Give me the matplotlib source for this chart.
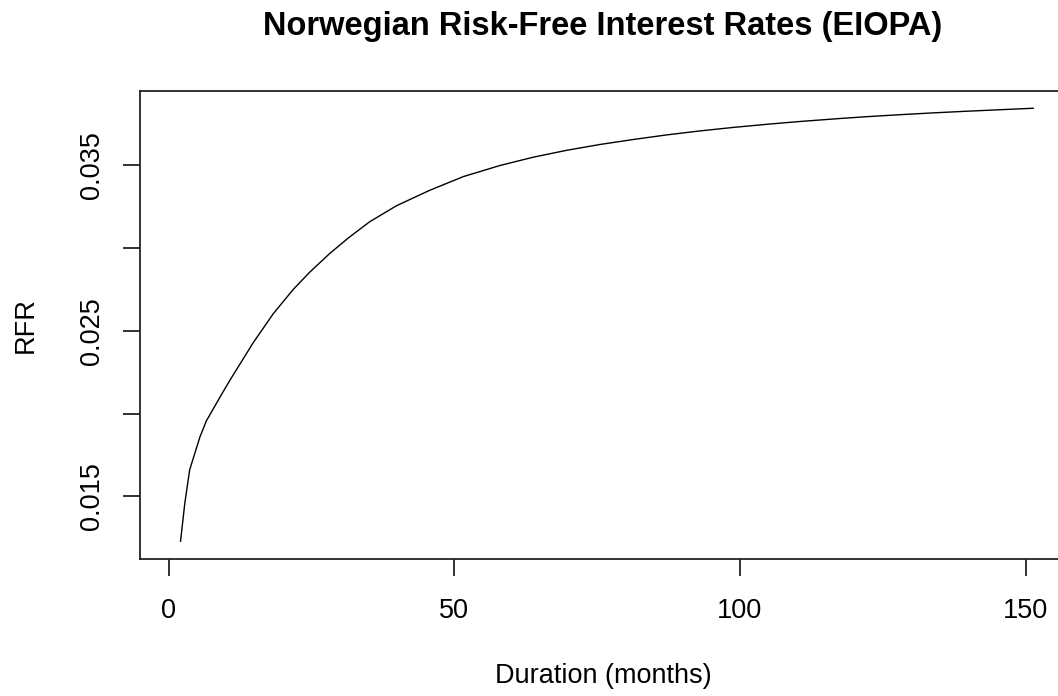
import matplotlib
matplotlib.use("Agg")
import matplotlib.pyplot as plt

plt.rcParams['font.family'] = ['Liberation Sans', 'DejaVu Sans']

# EIOPA risk-free rate curve for NOK, by duration
duration = [2.1, 2.85, 3.7, 5.5, 6.6, 9.0, 10.7, 12.5, 14.8, 18.3, 21.8, 24.7,
            28.2, 31.5, 35.2, 39.9, 45.7, 51.6, 58.0, 63.8, 69.7, 75.5, 81.3,
            87.2, 93.0, 98.8, 104.7, 110.5, 117.5, 122.2, 128.0, 133.8, 139.7,
            145.5, 151.3]
rfr = [0.01229, 0.0146, 0.01661, 0.0186, 0.01955, 0.02100, 0.02200, 0.0230,
       0.02428, 0.02603, 0.0275, 0.02855, 0.02968, 0.03063, 0.0316, 0.03257,
       0.0335, 0.03433, 0.035, 0.0355, 0.03592, 0.03627, 0.03657, 0.03685,
       0.03709, 0.0373, 0.03749, 0.03766, 0.03784, 0.03795, 0.03807, 0.03818,
       0.03828, 0.03837, 0.03846]

xticks = [0, 50, 100, 150]
yticks = [0.015, 0.020, 0.025, 0.030, 0.035]
ytick_labels = ['0.015', '', '0.025', '', '0.035']

fig = plt.figure(figsize=(10.58, 6.96), dpi=100)
ax = fig.add_axes([0.1323, 0.1974, 0.875, 0.6718])

ax.plot(duration, rfr, color='black', lw=1.0)

ax.set_xlim(-5, 157)
ax.set_ylim(0.01124, 0.0395)
ax.set_xticks(xticks)
ax.set_xticklabels([str(t) for t in xticks])
ax.set_yticks(yticks)
ax.set_yticklabels(ytick_labels, rotation=90, va='center')

for s in ax.spines.values():
    s.set_linewidth(1.3)
    s.set_color('#222222')
ax.tick_params(axis='both', length=12, width=1.3, color='#222222',
               labelsize=19.5)
ax.tick_params(axis='x', pad=16.5)
ax.tick_params(axis='y', pad=13)

ax.set_title('Norwegian Risk-Free Interest Rates (EIOPA)', fontsize=23.5,
             fontweight='bold', pad=40)
ax.set_xlabel('Duration (months)', fontsize=19.5, labelpad=28)
ax.set_ylabel('RFR', fontsize=19.5, labelpad=29.5)

fig.savefig('out.png', dpi=100)
